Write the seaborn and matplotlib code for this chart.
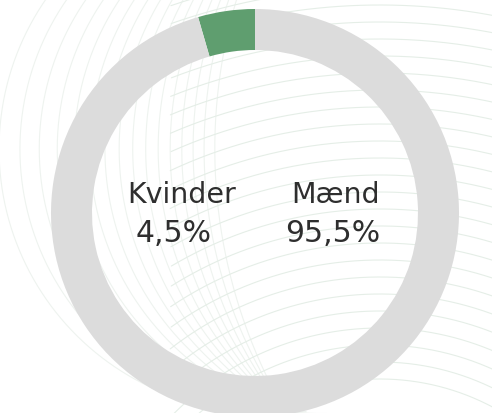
import numpy as np
import matplotlib
matplotlib.use("Agg")
import matplotlib.pyplot as plt
import seaborn as sns

# Gender split
categories = ["Kvinder", "Mænd"]
shares = [4.5, 95.5]
share_labels = ["4,5%", "95,5%"]

sns.set_theme(style="white")
plt.rcParams["font.family"] = ["DejaVu Sans"]

W, H = 492, 414
fig = plt.figure(figsize=(W / 100, H / 100), dpi=100)
ax = fig.add_axes([0, 0, 1, 1])

# Faint decorative arcs in the background (pixel space, y measured from top)
t = np.linspace(0, 2 * np.pi, 1440)
px, py = 285, 412
for beta in np.linspace(30, 95, 16):
    b = np.radians(beta)
    r = 262 / np.sin(b)
    cx, cy = px + r * np.cos(b), py - r * np.sin(b)
    xs, ys = cx + r * np.cos(t), cy + r * np.sin(t)
    keep = xs < cx + 5
    xs, ys = np.where(keep, xs, np.nan), np.where(keep, ys, np.nan)
    ax.plot(xs, H - ys, color="#eef3ef", lw=0.8, zorder=0)
for r in np.arange(240, 680, 17):
    cx, cy = 380, 620
    xs, ys = cx + r * np.cos(t), cy + r * np.sin(t)
    keep = (ys < cy) & (xs > 170)
    xs, ys = np.where(keep, xs, np.nan), np.where(keep, ys, np.nan)
    ax.plot(xs, H - ys, color="#e5eee7", lw=0.8, zorder=0)

colors = ["#5f9e6f", "#dcdcdc"]
ax.pie(shares, colors=colors, startangle=90, counterclock=True,
       radius=204, center=(255, H - 214),
       wedgeprops=dict(width=41, edgecolor="none"))

ax.set_xlim(0, W)
ax.set_ylim(0, H)
ax.set_aspect("equal")
ax.axis("off")

txt = "#2e2e2e"
ax.text(182, H - 203, categories[0], ha="center", va="baseline", fontsize=20.5, color=txt)
ax.text(174, H - 242, share_labels[0], ha="center", va="baseline", fontsize=21.5, color=txt)
ax.text(336, H - 203, categories[1], ha="center", va="baseline", fontsize=20.5, color=txt)
ax.text(333, H - 242, share_labels[1], ha="center", va="baseline", fontsize=21.5, color=txt)

fig.savefig("out.png", dpi=100, facecolor="white")
